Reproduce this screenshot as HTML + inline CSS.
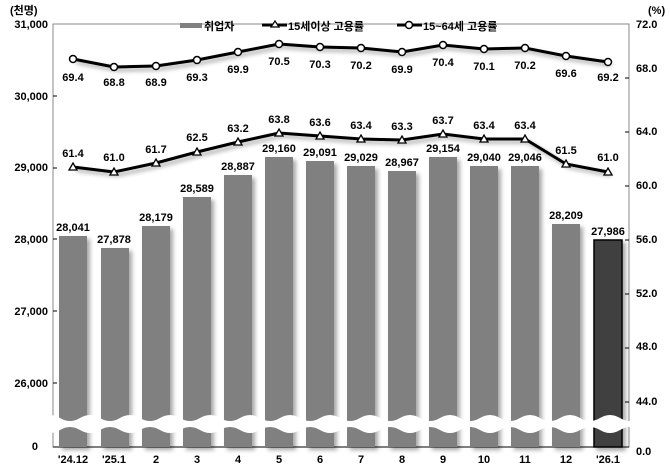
<!DOCTYPE html>
<html><head><meta charset="utf-8"><style>
body{margin:0;background:#fff}
text{font-family:"Liberation Sans","Noto Sans CJK KR",sans-serif;font-weight:bold}
</style></head><body>
<svg width="670" height="467" xmlns="http://www.w3.org/2000/svg">
<defs>
<filter id="sh" x="-20%" y="-20%" width="150%" height="150%"><feDropShadow dx="3" dy="3" stdDeviation="2" flood-color="#000" flood-opacity="0.35"/></filter>
</defs>
<rect x="53" y="24" width="576" height="423" fill="none" stroke="#888" stroke-width="1"/>
<g font-size="11" fill="#000">
<text x="10" y="14" font-size="11">(천명)</text>
<text x="48" y="28" text-anchor="end">31,000</text>
<text x="48" y="100" text-anchor="end">30,000</text>
<text x="48" y="171" text-anchor="end">29,000</text>
<text x="48" y="243" text-anchor="end">28,000</text>
<text x="48" y="315" text-anchor="end">27,000</text>
<text x="48" y="387" text-anchor="end">26,000</text>
<text x="38" y="450" text-anchor="end">0</text>
<text x="648" y="14">(%)</text>
<text x="636" y="28">72.0</text><text x="636" y="72">68.0</text><text x="636" y="135">64.0</text>
<text x="636" y="189">60.0</text><text x="636" y="243">56.0</text><text x="636" y="297">52.0</text>
<text x="636" y="350">48.0</text><text x="636" y="405">44.0</text><text x="636" y="455">0.0</text>
</g>
<g stroke="#000" stroke-width="1">
<line x1="53" y1="96" x2="57" y2="96"/><line x1="53" y1="168" x2="57" y2="168"/><line x1="53" y1="239" x2="57" y2="239"/><line x1="53" y1="311" x2="57" y2="311"/><line x1="53" y1="383" x2="57" y2="383"/>
<line x1="625" y1="78" x2="629" y2="78"/><line x1="625" y1="132" x2="629" y2="132"/><line x1="625" y1="186" x2="629" y2="186"/><line x1="625" y1="240" x2="629" y2="240"/><line x1="625" y1="294" x2="629" y2="294"/><line x1="625" y1="348" x2="629" y2="348"/><line x1="625" y1="402" x2="629" y2="402"/>
<line x1="53" y1="447" x2="629" y2="447"/>
</g>
<g id="bars" filter="url(#sh)">
<rect x="59" y="236" width="28" height="211" fill="#808080"/>
<rect x="101" y="248" width="28" height="199" fill="#808080"/>
<rect x="142" y="226" width="28" height="221" fill="#808080"/>
<rect x="183" y="197" width="28" height="250" fill="#808080"/>
<rect x="224" y="175" width="28" height="272" fill="#808080"/>
<rect x="265" y="157" width="28" height="290" fill="#808080"/>
<rect x="306" y="161" width="28" height="286" fill="#808080"/>
<rect x="347" y="166" width="28" height="281" fill="#808080"/>
<rect x="388" y="171" width="28" height="276" fill="#808080"/>
<rect x="429" y="157" width="28" height="290" fill="#808080"/>
<rect x="470" y="166" width="28" height="281" fill="#808080"/>
<rect x="511" y="166" width="28" height="281" fill="#808080"/>
<rect x="552" y="224" width="28" height="223" fill="#808080"/>
<rect x="594" y="240" width="28" height="207" fill="#404040" stroke="#000" stroke-width="1.5"/>
</g>
<path d="M40 418 Q50 412 60 418 T80 418 T100 418 T120 418 T140 418 T160 418 T180 418 T200 418 T220 418 T240 418 T260 418 T280 418 T300 418 T320 418 T340 418 T360 418 T380 418 T400 418 T420 418 T440 418 T460 418 T480 418 T500 418 T520 418 T540 418 T560 418 T580 418 T600 418 T620 418 T640 418 L640 430 Q630 424 620 430 T600 430 T580 430 T560 430 T540 430 T520 430 T500 430 T480 430 T460 430 T440 430 T420 430 T400 430 T380 430 T360 430 T340 430 T320 430 T300 430 T280 430 T260 430 T240 430 T220 430 T200 430 T180 430 T160 430 T140 430 T120 430 T100 430 T80 430 T60 430 T40 430 Z" fill="#fff"/>
<g font-size="11" text-anchor="middle">
<text x="73" y="231">28,041</text><text x="114" y="243">27,878</text><text x="156" y="221">28,179</text>
<text x="197" y="192">28,589</text><text x="238" y="170">28,887</text><text x="279" y="152">29,160</text>
<text x="320" y="156">29,091</text><text x="361" y="161">29,029</text><text x="402" y="166">28,967</text>
<text x="443" y="152">29,154</text><text x="484" y="161">29,040</text><text x="525" y="161">29,046</text>
<text x="566" y="219">28,209</text><text x="608" y="235">27,986</text>
</g>
<g font-size="11" text-anchor="middle">
<text x="73" y="463">'24.12</text><text x="114" y="463">'25.1</text><text x="156" y="463">2</text><text x="197" y="463">3</text><text x="238" y="463">4</text><text x="279" y="463">5</text><text x="320" y="463">6</text><text x="361" y="463">7</text><text x="402" y="463">8</text><text x="443" y="463">9</text><text x="484" y="463">10</text><text x="525" y="463">11</text><text x="566" y="463">12</text><text x="608" y="463">'26.1</text>
</g>
<g filter="url(#sh)">
<polyline fill="none" stroke="#000" stroke-width="3" points="73,59 114,67 156,66 197,60 238,52 279,44 320,47 361,48 402,52 443,45 484,49 525,48 566,56 608,62"/>
<polyline fill="none" stroke="#000" stroke-width="3" points="73,167 114,172 156,163 197,152 238,142 279,133 320,136 361,139 402,140 443,134 484,139 525,139 566,164 608,172"/>
</g>
<g fill="#fff" stroke="#000" stroke-width="1.5">
<circle cx="73" cy="59" r="3.5"/><circle cx="114" cy="67" r="3.5"/><circle cx="156" cy="66" r="3.5"/><circle cx="197" cy="60" r="3.5"/><circle cx="238" cy="52" r="3.5"/><circle cx="279" cy="44" r="3.5"/><circle cx="320" cy="47" r="3.5"/><circle cx="361" cy="48" r="3.5"/><circle cx="402" cy="52" r="3.5"/><circle cx="443" cy="45" r="3.5"/><circle cx="484" cy="49" r="3.5"/><circle cx="525" cy="48" r="3.5"/><circle cx="566" cy="56" r="3.5"/><circle cx="608" cy="62" r="3.5"/>
</g>
<g fill="#fff" stroke="#000" stroke-width="1.3">
<path d="M73 163 l4 7 h-8z"/><path d="M114 168 l4 7 h-8z"/><path d="M156 159 l4 7 h-8z"/><path d="M197 148 l4 7 h-8z"/><path d="M238 138 l4 7 h-8z"/><path d="M279 129 l4 7 h-8z"/><path d="M320 132 l4 7 h-8z"/><path d="M361 135 l4 7 h-8z"/><path d="M402 136 l4 7 h-8z"/><path d="M443 130 l4 7 h-8z"/><path d="M484 135 l4 7 h-8z"/><path d="M525 135 l4 7 h-8z"/><path d="M566 160 l4 7 h-8z"/><path d="M608 168 l4 7 h-8z"/>
</g>
<g font-size="11" text-anchor="middle">
<text x="73" y="81">69.4</text><text x="114" y="86">68.8</text><text x="156" y="86">68.9</text><text x="197" y="81">69.3</text><text x="238" y="73">69.9</text><text x="279" y="65">70.5</text><text x="320" y="68">70.3</text><text x="361" y="69">70.2</text><text x="402" y="73">69.9</text><text x="443" y="66">70.4</text><text x="484" y="70">70.1</text><text x="525" y="69">70.2</text><text x="566" y="77">69.6</text><text x="608" y="81">69.2</text>
<text x="73" y="157">61.4</text><text x="114" y="161">61.0</text><text x="156" y="153">61.7</text><text x="197" y="141">62.5</text><text x="238" y="132">63.2</text><text x="279" y="123">63.8</text><text x="320" y="126">63.6</text><text x="361" y="129">63.4</text><text x="402" y="130">63.3</text><text x="443" y="124">63.7</text><text x="484" y="129">63.4</text><text x="525" y="129">63.4</text><text x="566" y="154">61.5</text><text x="608" y="161">61.0</text>
</g>
<rect x="180" y="23" width="22" height="5" fill="#808080"/>
<text x="204" y="30" font-size="11">취업자</text>
<line x1="262" y1="25" x2="287" y2="25" stroke="#000" stroke-width="3"/>
<path d="M275 21 l4 6 h-8z" fill="#fff" stroke="#000" stroke-width="1.2"/>
<text x="288" y="30" font-size="11">15세이상 고용률</text>
<line x1="397" y1="25" x2="422" y2="25" stroke="#000" stroke-width="3"/>
<circle cx="409" cy="25" r="3.5" fill="#fff" stroke="#000" stroke-width="1.5"/>
<text x="423" y="30" font-size="11">15~64세 고용률</text>
</svg>
</body></html>
